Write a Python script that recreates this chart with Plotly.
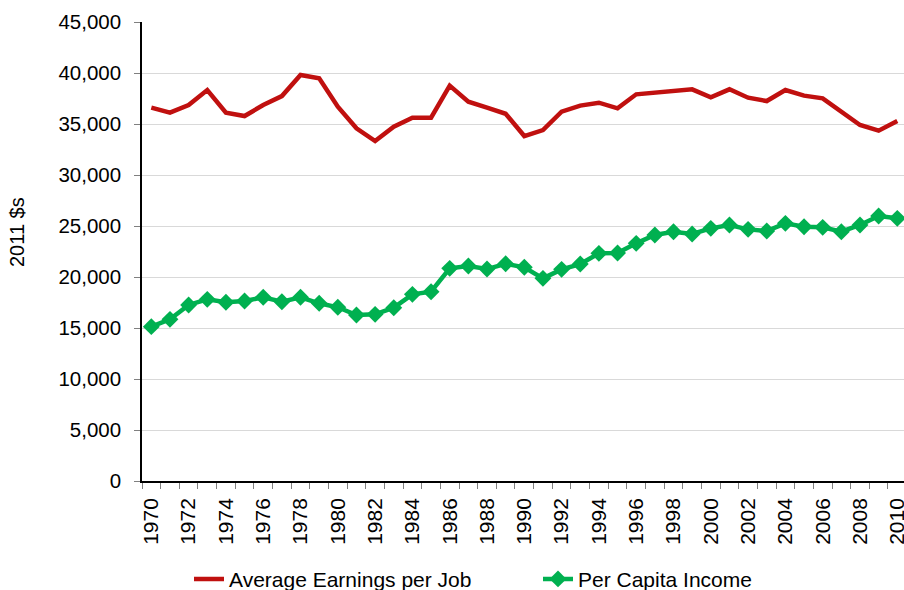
import plotly.graph_objects as go

years = list(range(1970, 2011))
avg_earnings = [36600, 36110, 36860, 38330, 36110, 35780, 36860, 37740, 39800, 39480,
                36700, 34580, 33330, 34740, 35620, 35620, 38760, 37190, 36600, 36000,
                33820, 34410, 36210, 36800, 37090, 36540, 37910, 38100, 38270, 38400,
                37620, 38400, 37580, 37250, 38330, 37780, 37520, 36210, 34900, 34350,
                35290]
per_capita = [15130, 15850, 17260, 17810, 17520, 17650, 18010, 17580, 18010, 17420,
              17030, 16270, 16340, 16990, 18300, 18560, 20850, 21080, 20780, 21300,
              20950, 19870, 20750, 21270, 22320, 22350, 23300, 24120, 24440, 24220,
              24770, 25100, 24670, 24510, 25260, 24930, 24870, 24440, 25100, 25980,
              25750]
tick_years = list(range(1970, 2011, 2))
y_ticks = list(range(0, 45001, 5000))

FONT = "Liberation Sans, Arial, sans-serif"

fig = go.Figure()
fig.add_trace(go.Scatter(x=years, y=avg_earnings, mode="lines",
                         name="Average Earnings per Job", legend="legend",
                         line=dict(color="#C0100F", width=4.5)))
fig.add_trace(go.Scatter(x=years, y=per_capita, mode="lines+markers",
                         name="Per Capita Income", legend="legend2",
                         line=dict(color="#00B050", width=4.5),
                         marker=dict(symbol="diamond", size=13, color="#00B050")))

leg_common = dict(orientation="h", yanchor="middle", xanchor="left",
                  font=dict(size=21, family=FONT), bgcolor="rgba(0,0,0,0)")
fig.update_layout(
    width=904, height=590,
    margin=dict(l=142, r=0, t=22, b=109, autoexpand=False),
    paper_bgcolor="white", plot_bgcolor="white",
    font=dict(family=FONT, color="black", size=20),
    showlegend=True,
    legend=dict(x=(189 - 142) / 762, y=-0.214, **leg_common),
    legend2=dict(x=(538 - 142) / 762, y=-0.214, **leg_common),
    annotations=[dict(text="2011 $s", textangle=-90, xref="paper", yref="paper",
                      x=(17 - 142) / 762, y=(481 - 232) / 459,
                      xanchor="center", yanchor="middle", showarrow=False,
                      font=dict(size=20, family=FONT, color="black"))],
)
fig.update_xaxes(
    range=[1969.5, 2010.36], automargin=False,
    tickvals=tick_years, ticktext=[str(y) for y in tick_years],
    tickangle=-90, ticks="", tickfont=dict(size=21, family=FONT),
    ticklabeloverflow="allow", ticklabelstandoff=7,
    showgrid=False, zeroline=False,
    showline=True, linecolor="black", linewidth=1.5,
    minor=dict(tickvals=[y - 0.5 for y in years] + [2010.5], ticks="outside",
               ticklen=6, tickcolor="#808080", tickwidth=1, showgrid=False),
)
fig.update_yaxes(
    range=[0, 45000], tickvals=y_ticks, tickformat=",", automargin=False,
    tickfont=dict(size=20.5, family=FONT), ticklabelstandoff=9,
    ticks="outside", ticklen=6, tickcolor="#808080",
    showgrid=True, gridcolor="#D9D9D9", gridwidth=1.3,
    zeroline=False, showline=True, linecolor="black", linewidth=1.5,
)

fig.write_html("out.html", config={"displayModeBar": False},
               post_script="document.body.style.margin='0px';document.body.style.overflow='hidden';")
